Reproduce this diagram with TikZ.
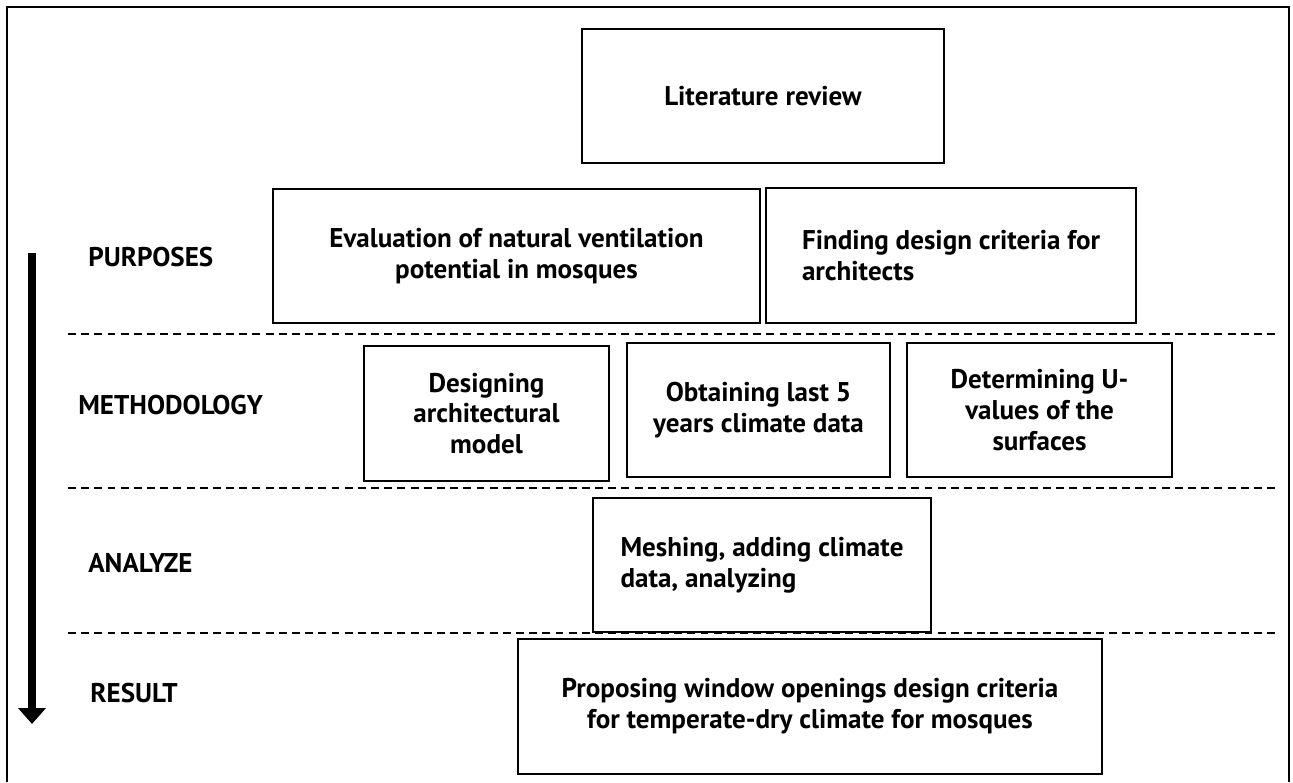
\documentclass[tikz,border=0pt]{standalone}
\usepackage{fontspec}
\setmainfont{PT Sans}
\usetikzlibrary{arrows.meta}
\begin{document}
\begin{tikzpicture}[x=0.02cm,y=-0.02cm,>=stealth,
  font=\bfseries\fontsize{15.4}{17.6}\selectfont,
  box/.style={draw,line width=1.1pt,align=center,inner sep=0pt},
  stage/.style={anchor=west,inner sep=0pt},
  sep/.style={line width=0.9pt,dash pattern=on 4.5pt off 3pt}]
  \useasboundingbox (0,0) rectangle (1293,782);
  % frame
  \draw[line width=1pt] (7,782) -- (7,7) -- (1289,7) -- (1289,782);
  % stage separators
  \foreach \y in {334,488,633}
    \draw[sep] (68,\y) -- (1278,\y);
  % top box
  \node[box,minimum width=7.24cm,minimum height=2.68cm] (lit) at (763,96) {Literature review};
  % purposes
  \node[box,minimum width=9.74cm,minimum height=2.68cm] (eval) at (516.5,256)
    {Evaluation of natural ventilation\\potential in mosques};
  \node[box,minimum width=7.4cm,minimum height=2.7cm,align=left] (find) at (951,255.5)
    {Finding design criteria for\\architects};
  % methodology
  \node[box,minimum width=4.9cm,minimum height=2.7cm] (design) at (486.5,413.5)
    {Designing\\architectural\\model};
  \node[box,minimum width=5.26cm,minimum height=2.68cm] (obtain) at (758.5,410)
    {Obtaining last 5\\years climate data};
  \node[box,minimum width=5.3cm,minimum height=2.68cm] (determ) at (1039.5,410)
    {Determining U-\\values of the\\surfaces};
  % analyze
  \node[box,minimum width=6.76cm,minimum height=2.68cm,align=left] (mesh) at (762,565)
    {Meshing, adding climate\\data, analyzing};
  % result
  \node[box,minimum width=11.68cm,minimum height=2.7cm] (propose) at (810,706.5)
    {Proposing window openings design criteria\\for temperate-dry climate for mosques};
  % stage labels
  \node[stage] (purp) at (88,257) {PURPOSES};
  \node[stage] (meth) at (78,405) {METHODOLOGY};
  \node[stage] (anal) at (88,563) {ANALYZE};
  \node[stage] (res) at (90,693) {RESULT};
  % time arrow
  \coordinate (atop) at (32,253);
  \coordinate (abot) at (32,724);
  \draw[line width=0.18cm,-{Triangle[width=0.54cm,length=0.32cm]}] (atop) -- (abot);
\end{tikzpicture}
\end{document}
